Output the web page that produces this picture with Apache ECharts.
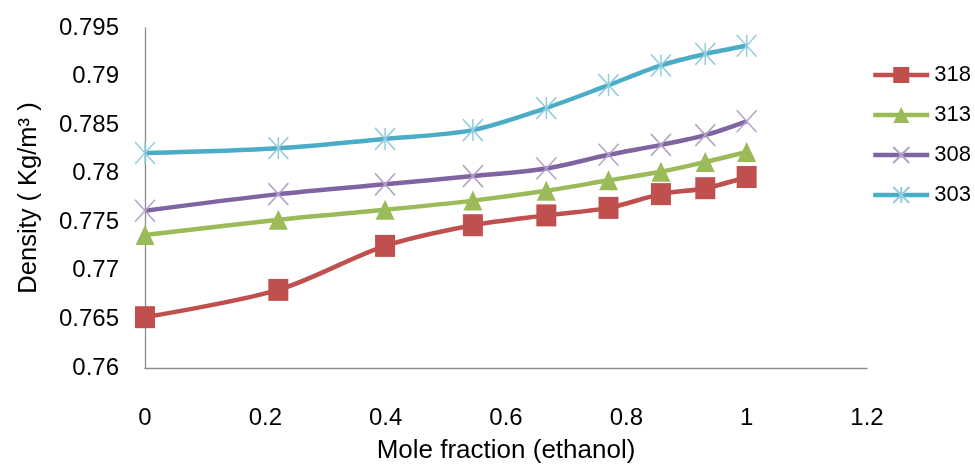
<!DOCTYPE html>
<html>
<head>
<meta charset="utf-8">
<script src="https://cdn.jsdelivr.net/npm/echarts@6/dist/echarts.min.js"></script>
<style>
html,body{margin:0;padding:0;background:#fff;}
#chart{width:975px;height:469px;}
</style>
</head>
<body>
<div id="chart"></div>
<script>
// Data
const moleFraction = [0, 0.2216, 0.399, 0.545, 0.667, 0.7704, 0.8575, 0.9312, 1.0];
const seriesNames = ['318', '313', '308', '303'];
const density318 = [0.76523, 0.76804, 0.77257, 0.7747, 0.77571, 0.77648, 0.7779, 0.77851, 0.77966];
const density313 = [0.77368, 0.77526, 0.77628, 0.77723, 0.77824, 0.77932, 0.7802, 0.78121, 0.78223];
const density308 = [0.77619, 0.7779, 0.77891, 0.77976, 0.78054, 0.78195, 0.78297, 0.78398, 0.7854];
const density303 = [0.78213, 0.78263, 0.78358, 0.78449, 0.78676, 0.78912, 0.79115, 0.79233, 0.79317];
const xAxisTitle = 'Mole fraction (ethanol)';
const yAxisTitle = 'Density ( Kg/m\u00B3 )';

const FONT = "'Liberation Sans', Arial, sans-serif";
const toPairs = arr => arr.map((v, i) => [moleFraction[i], v]);

const crossPath = 'path://M0,0L20,22M20,0L0,22';
const starPath = 'path://M0,0L20,22M20,0L0,22M10,0L10,22';

function mkSeries(name, values, color, symbol, symbolSize, markColor, stroke) {
  const itemStyle = stroke
    ? { color: 'rgba(0,0,0,0)', borderColor: markColor, borderWidth: 1.6 }
    : { color: markColor, borderWidth: 0 };
  return {
    name: name,
    type: 'line',
    data: toPairs(values),
    smooth: 0.3,
    symbol: symbol,
    symbolSize: symbolSize,
    showAllSymbol: true,
    lineStyle: { color: color, width: 4.5 },
    itemStyle: itemStyle,
    z: 2
  };
}

const chart = echarts.init(document.getElementById('chart'), null, { renderer: 'canvas' });
chart.setOption({
  animation: false,
  backgroundColor: '#ffffff',
  textStyle: { fontFamily: FONT },
  grid: { left: 145, right: 108, top: 28, bottom: 96, containLabel: false },
  legend: {
    orient: 'vertical',
    left: 871,
    top: 64,
    padding: 0,
    itemWidth: 56,
    itemHeight: 20,
    itemGap: 18,
    data: seriesNames,
    lineStyle: { width: 4.5 },
    textStyle: { fontSize: 22, color: '#000', fontFamily: FONT, lineHeight: 22 }
  },
  xAxis: {
    type: 'value',
    min: 0,
    max: 1.2,
    interval: 0.2,
    name: xAxisTitle,
    nameLocation: 'middle',
    nameGap: 70,
    nameTextStyle: { fontSize: 26, color: '#000', fontFamily: FONT },
    axisLine: { show: true, onZero: false, lineStyle: { color: '#8c8c8c', width: 1.3 } },
    axisTick: { show: false },
    splitLine: { show: false },
    axisLabel: { fontSize: 24, color: '#000', margin: 38, fontFamily: FONT,
      formatter: v => String(+v.toFixed(1)) }
  },
  yAxis: {
    type: 'value',
    min: 0.76,
    max: 0.795,
    interval: 0.005,
    name: yAxisTitle,
    nameLocation: 'middle',
    nameGap: 103,
    nameTextStyle: { fontSize: 25.5, color: '#000', fontFamily: FONT },
    axisLine: { show: true, lineStyle: { color: '#8c8c8c', width: 1.3 } },
    axisTick: { show: false },
    splitLine: { show: false },
    axisLabel: { fontSize: 24, color: '#000', margin: 26, fontFamily: FONT,
      formatter: v => String(+v.toFixed(3)) }
  },
  series: [
    mkSeries('318', density318, '#C0504D', 'rect', [20, 22], '#C0504D', false),
    mkSeries('313', density313, '#9BBB59', 'triangle', [19, 20], '#9BBB59', false),
    mkSeries('308', density308, '#8064A2', crossPath, [20, 22], '#B3A2C7', true),
    mkSeries('303', density303, '#4BACC6', starPath, [20, 22], '#93CDDD', true)
  ]
});
</script>
</body>
</html>
